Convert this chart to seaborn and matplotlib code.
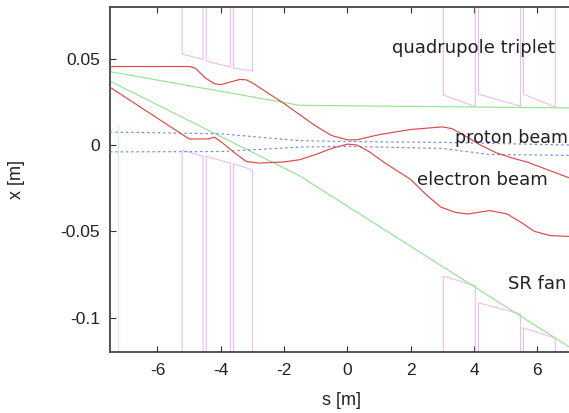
import matplotlib
matplotlib.use("Agg")
import matplotlib.pyplot as plt
import matplotlib.ticker as mticker
import numpy as np
import pandas as pd
import seaborn as sns

# Electron beam envelope (s [m], x [m])
e_up_s = [-7.5, -5.0, -4.8, -4.5, -4.2, -4.0, -3.7, -3.4, -3.2, -3.0, -2.5, -2.0, -1.5,
          -1.0, -0.5, 0.0, 0.3, 1.0, 2.0, 3.0, 3.3, 3.7, 4.2, 4.7, 5.2, 5.7, 6.2, 7.0]
e_up_x = [0.0455, 0.0455, 0.0445, 0.039, 0.0355, 0.035, 0.0365, 0.038, 0.0378, 0.036,
          0.030, 0.024, 0.0175, 0.011, 0.0055, 0.003, 0.003, 0.006, 0.009, 0.0105,
          0.0095, 0.0055, 0.0, -0.0045, -0.0075, -0.010, -0.0135, -0.019]
e_lo_s = [-7.5, -5.0, -4.4, -4.2, -4.0, -3.6, -3.2, -2.8, -2.0, -1.5, -1.0, -0.5, 0.0,
          0.3, 0.7, 1.15, 2.0, 2.5, 2.95, 3.4, 3.8, 4.5, 5.05, 5.5, 5.9, 6.4, 7.0]
e_lo_x = [0.0335, 0.0035, 0.0035, 0.0045, 0.002, -0.004, -0.0095, -0.0105, -0.0098,
          -0.0085, -0.0055, -0.002, 0.0005, 0.0, -0.004, -0.010, -0.020, -0.029, -0.036,
          -0.039, -0.040, -0.038, -0.040, -0.045, -0.050, -0.0525, -0.053]

# Proton beam envelope
p_up_s = [-7.5, -4.0, -1.5, 0.0, 3.0, 7.0]
p_up_x = [0.0075, 0.0065, 0.0025, 0.002, 0.0015, 0.0]
p_lo_s = [-7.5, -4.0, -1.5, 0.0, 3.0, 4.5, 7.0]
p_lo_x = [-0.004, -0.0038, -0.0012, -0.0008, -0.002, -0.0055, -0.006]

# Synchrotron radiation fan edges
fan_up_s = [-7.5, -1.5, 7.0]
fan_up_x = [0.0425, 0.023, 0.0215]
fan_lo_s = [-7.5, -1.5, 7.0]
fan_lo_x = [0.037, -0.018, -0.117]

# Quadrupole apertures: entry/exit positions and aperture edges
quad_s_in = [-5.22, -4.46, -3.60, 3.03, 4.14, 5.56]
quad_s_out = [-4.56, -3.70, -3.00, 4.04, 5.47, 6.57]
quad_top_in = [0.0527, 0.0487, 0.0447, 0.0290, 0.0295, 0.0295]
quad_top_out = [0.0496, 0.0452, 0.0428, 0.0222, 0.0225, 0.0219]
quad_bot_in = [-0.0030, -0.0066, -0.0108, -0.0760, -0.0915, -0.1060]
quad_bot_out = [-0.0065, -0.0105, -0.0145, -0.0816, -0.0980, -0.1120]

# Detector boundary at the left end
det_s = [-7.25, -7.25]
det_x = [-0.12, 0.012]

x_ticks = [-6, -4, -2, 0, 2, 4, 6]
y_ticks = [-0.1, -0.05, 0, 0.05]
s_lim = (-7.5, 7.0)
x_lim = (-0.12, 0.08)

sns.set_style("white")
plt.rcParams["font.family"] = ["Liberation Sans", "DejaVu Sans"]

fig = plt.figure(figsize=(5.69, 4.13), dpi=100)
ax = fig.add_axes([110 / 569, 61 / 413, 459 / 569, 345 / 413])

RED = "#e04848"
GREEN = "#94e494"
BLUE = "#6a86e4"
PINK = "#eeb8ee"

# magnet outlines
for a, b, ti, to, bi, bo in zip(quad_s_in, quad_s_out, quad_top_in, quad_top_out,
                                 quad_bot_in, quad_bot_out):
    ax.plot([a, a, b, b], [x_lim[1], ti, to, x_lim[1]], color=PINK, lw=0.75, zorder=1)
    ax.plot([a, a, b, b], [x_lim[0], bi, bo, x_lim[0]], color=PINK, lw=0.75, zorder=1)

ax.plot(det_s, det_x, color="#d2f0e8", lw=0.9, zorder=1)

def draw(s, x, **kw):
    df = pd.DataFrame({"s": s, "x": x})
    sns.lineplot(data=df, x="s", y="x", sort=False, estimator=None, ax=ax, **kw)

draw(fan_up_s, fan_up_x, color=GREEN, lw=0.85, zorder=2)
draw(fan_lo_s, fan_lo_x, color=GREEN, lw=0.85, zorder=2)
draw(p_up_s, p_up_x, color=BLUE, lw=0.85, linestyle=(0, (2, 2.5)), zorder=3)
draw(p_lo_s, p_lo_x, color=BLUE, lw=0.85, linestyle=(0, (2, 2.5)), zorder=3)
draw(e_up_s, e_up_x, color=RED, lw=0.85, zorder=4)
draw(e_lo_s, e_lo_x, color=RED, lw=0.85, zorder=4)

ax.set_xlim(*s_lim)
ax.set_ylim(*x_lim)
ax.set_xticks(x_ticks)
ax.set_yticks(y_ticks)
ax.xaxis.set_major_formatter(mticker.FuncFormatter(lambda v, p: f"{v:g}"))
ax.yaxis.set_major_formatter(mticker.FuncFormatter(lambda v, p: f"{v:g}"))
ax.tick_params(direction="in", length=4, width=0.8, color="#333333",
               top=True, bottom=True, left=True, right=False,
               labelsize=12.5, labelcolor="#222222")
ax.tick_params(axis="x", pad=8)
ax.tick_params(axis="y", pad=7)

for side in ["left", "top", "bottom"]:
    ax.spines[side].set_visible(True)
    ax.spines[side].set_color("#444444")
    ax.spines[side].set_linewidth(1.3)
ax.spines["right"].set_visible(False)

ax.set_xlabel("s [m]", fontsize=13, color="#222222")
ax.set_ylabel("x [m]", fontsize=13, color="#222222")
ax.xaxis.set_label_coords(0.505, -0.115)
ax.yaxis.set_label_coords(-0.185, 0.5)

txt = dict(fontsize=13, family=["DejaVu Sans"], color="#222222", va="baseline", ha="left",
           zorder=6)
ax.text(1.41, 0.0534, "quadrupole triplet", **txt)
ax.text(3.40, 0.0009, "proton beam", fontsize=12.6,
        **{k: v for k, v in txt.items() if k != "fontsize"})
ax.text(2.20, -0.0229, "electron beam", **txt)
ax.text(5.07, -0.0837, "SR fan", **txt)

fig.savefig("out.png", dpi=100)
